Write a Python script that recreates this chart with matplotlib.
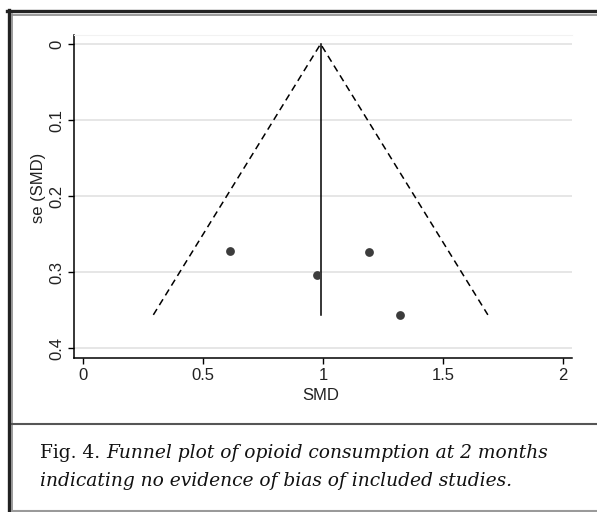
import numpy as np
import matplotlib
matplotlib.use("Agg")
import matplotlib.pyplot as plt
from matplotlib.lines import Line2D

# study effects (SMD) and their standard errors
smd = [0.611, 0.974, 1.192, 1.321]
se = [0.272, 0.303, 0.274, 0.356]
pooled = 0.99
se_max = 0.356
xticks = [0, 0.5, 1, 1.5, 2]
xticklabels = ['0', '0.5', '1', '1.5', '2']
yticks = [0, 0.1, 0.2, 0.3, 0.4]
yticklabels = ['0', '0.1', '0.2', '0.3', '0.4']

W, H = 597, 512
fig = plt.figure(figsize=(W / 100, H / 100), dpi=100)
fig.patch.set_facecolor('white')

sans = 'Liberation Sans'
ax = fig.add_axes([74 / W, 1 - 358 / H, (572 - 74) / W, (358 - 35) / H])

# funnel (pseudo 95% limits) and pooled line
lo = pooled - 1.96 * se_max
hi = pooled + 1.96 * se_max
ax.plot([lo, pooled, hi], [se_max, 0, se_max], color='black', lw=1.1,
        ls=(0, (4.5, 3)), zorder=3)
ax.plot([pooled, pooled], [0, se_max], color='black', lw=1.1, zorder=3)
ax.scatter(smd, se, s=40, color='#3c3c3c', zorder=4, linewidths=0)

ax.set_xlim(-0.0388, 2.0388)
ax.set_ylim(0.4127, -0.0118)
ax.set_yticks(yticks)
ax.set_yticklabels(yticklabels, rotation=90, va='center', fontfamily=sans,
                   fontsize=12, color='#222222')
ax.set_xticks(xticks)
ax.set_xticklabels(xticklabels, fontfamily=sans, fontsize=12, color='#222222')
ax.tick_params(axis='both', length=4, width=1, color='black', pad=3)
ax.grid(axis='y', color='#e6e6e6', lw=1.4)
ax.set_axisbelow(True)

ax.spines['right'].set_visible(False)
ax.spines['top'].set_color('#f2f2f2')
ax.spines['top'].set_linewidth(0.8)
ax.spines['left'].set_linewidth(1.1)
ax.spines['bottom'].set_linewidth(1.1)

fig.text(38 / W, 1 - 188 / H, 'se (SMD)', rotation=90, ha='center', va='center',
         fontfamily=sans, fontsize=12, color='#222222')
fig.text(321 / W, 1 - 396 / H, 'SMD', ha='center', va='center',
         fontfamily=sans, fontsize=12, color='#222222')

# caption
cap_font = 'DejaVu Serif'
cap_size = 13.4
t1 = fig.text(40 / W, 1 - 453 / H, 'Fig. 4. ', fontfamily=cap_font, fontsize=cap_size,
              va='center', color='#111111')
fig.canvas.draw()
bb = t1.get_window_extent()
fig.text(bb.x1 / W, 1 - 453 / H, 'Funnel plot of opioid consumption at 2 months',
         fontfamily=cap_font, style='italic', fontsize=cap_size, va='center',
         color='#111111')
fig.text(40 / W, 1 - 481 / H, 'indicating no evidence of bias of included studies.',
         fontfamily=cap_font, style='italic', fontsize=cap_size, va='center',
         color='#111111')

# frame around the figure
def hline(y, x0, x1, color, lw):
    fig.add_artist(Line2D([x0 / W, x1 / W], [1 - y / H, 1 - y / H],
                          transform=fig.transFigure, color=color, lw=lw))

def vline(x, y0, y1, color, lw):
    fig.add_artist(Line2D([x / W, x / W], [1 - y0 / H, 1 - y1 / H],
                          transform=fig.transFigure, color=color, lw=lw))

hline(11, 7, W, '#222222', 2.4)
vline(8.5, 10, H, '#222222', 2.4)
hline(14.5, 12, W, '#8a8a8a', 1.2)
vline(12, 14, H, '#8a8a8a', 1.2)
hline(424, 12, W, '#555555', 1.5)
hline(511, 12, W, '#9a9a9a', 1.5)

fig.savefig('out.png', dpi=100)
